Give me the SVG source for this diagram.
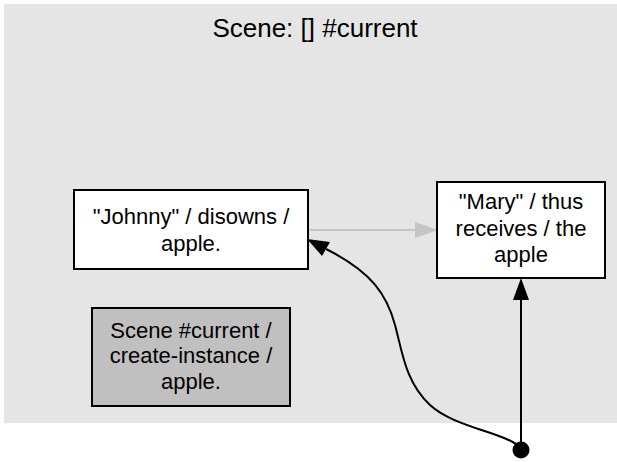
<svg xmlns="http://www.w3.org/2000/svg" width="617" height="462" viewBox="0 0 617 462">
<style>
.t{font-family:"Liberation Sans",Arial,sans-serif;font-size:22px;fill:#000;text-anchor:middle}
.title{font-family:"Liberation Sans",Arial,sans-serif;font-size:26px;fill:#000;text-anchor:middle}
.box{stroke:#000;stroke-width:2}
.edge{fill:none;stroke:#000;stroke-width:2}
</style>
<rect width="617" height="462" fill="#fff"/>
<g id="cluster_scene">
<rect x="4" y="4" width="630" height="419" fill="#e5e5e5"/>
<text class="title" x="315" y="37">Scene: [] #current</text>
</g>
<g id="edges">
<line x1="308" y1="230" x2="416" y2="230" stroke="#c4c4c4" stroke-width="2"/>
<polygon points="415,222 438,230 415,238" fill="#c4c4c4"/>
<path class="edge" d="M521,448 C505,432 455,428 430,405 C405,382 402,350 395,325 C387,295 372,272 326,249"/>
<polygon points="307,239 330,242 322,256" fill="#000"/>
<line class="edge" x1="521" y1="450" x2="521" y2="299"/>
<polygon points="513,300 521,278 529,300" fill="#000"/>
<circle cx="521" cy="450" r="8.5" fill="#000"/>
</g>
<g id="node_johnny">
<rect class="box" x="74" y="190" width="234" height="79" fill="#fff"/>
<text class="t" x="191" y="224">"Johnny" / disowns /</text>
<text class="t" x="191" y="251">apple.</text>
</g>
<g id="node_mary">
<rect class="box" x="437" y="182" width="168" height="96" fill="#fff"/>
<text class="t" x="521" y="209">"Mary" / thus</text>
<text class="t" x="521" y="236">receives / the</text>
<text class="t" x="521" y="262">apple</text>
</g>
<g id="node_scene">
<rect class="box" x="92" y="308" width="198" height="98" fill="#c0c0c0"/>
<text class="t" x="191" y="338">Scene #current /</text>
<text class="t" x="191" y="363">create-instance /</text>
<text class="t" x="191" y="389">apple.</text>
</g>
</svg>
